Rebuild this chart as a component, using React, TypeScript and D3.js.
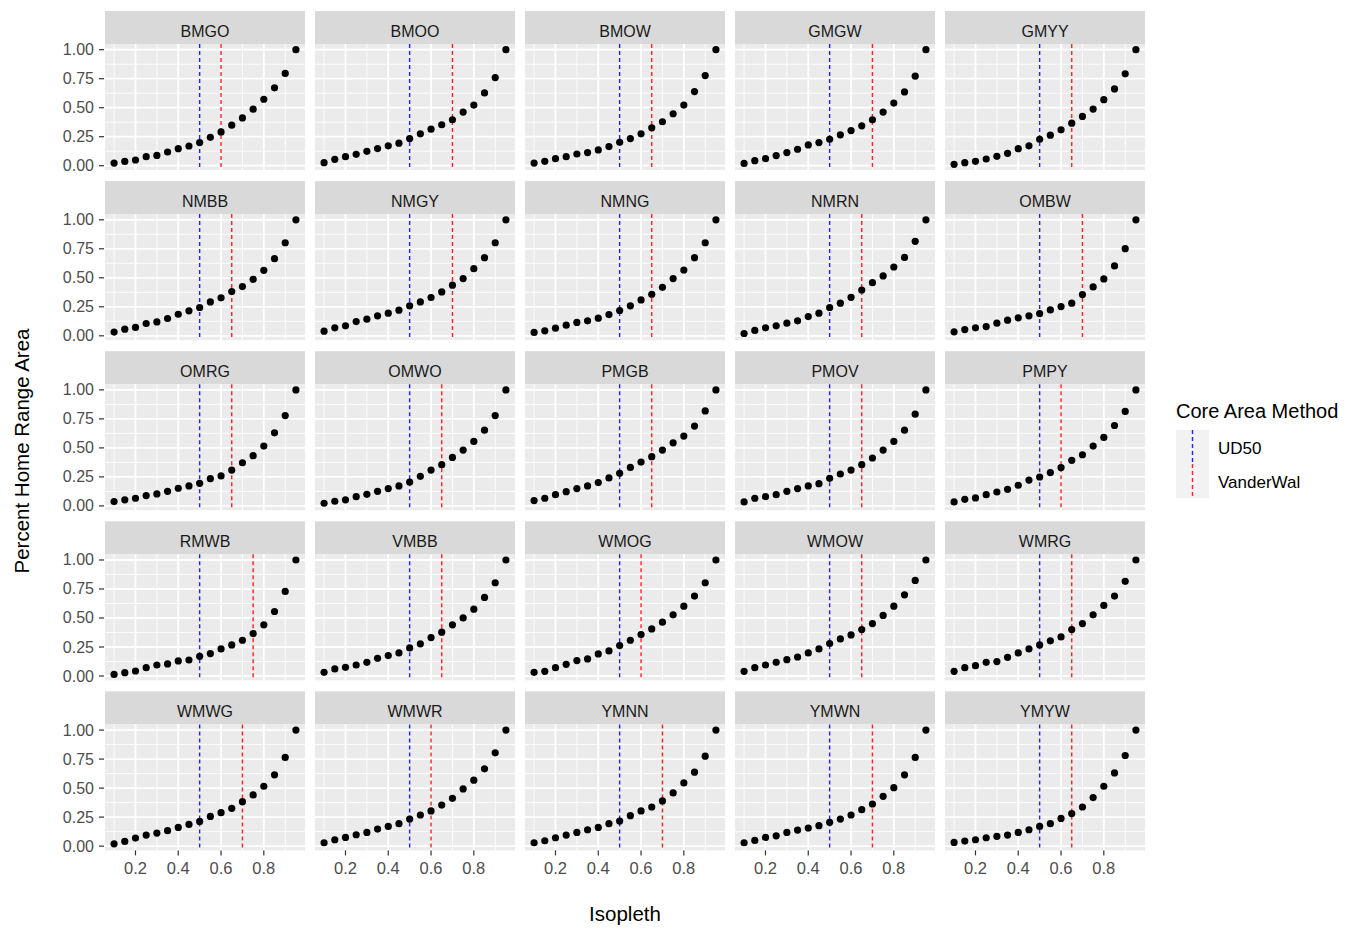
import * as React from 'react';
import * as d3 from 'd3';

// isopleth levels (x) shared by every animal
const isopleths = [0.1, 0.15, 0.2, 0.25, 0.3, 0.35, 0.4, 0.45, 0.5, 0.55, 0.6, 0.65, 0.7, 0.75, 0.8, 0.85, 0.9, 0.95];

const animals = ['BMGO', 'BMOO', 'BMOW', 'GMGW', 'GMYY', 'NMBB', 'NMGY', 'NMNG', 'NMRN', 'OMBW',
  'OMRG', 'OMWO', 'PMGB', 'PMOV', 'PMPY', 'RMWB', 'VMBB', 'WMOG', 'WMOW', 'WMRG',
  'WMWG', 'WMWR', 'YMNN', 'YMWN', 'YMYW'];

// core area cut-offs
const ud50 = [0.5, 0.5, 0.5, 0.5, 0.5, 0.5, 0.5, 0.5, 0.5, 0.5, 0.5, 0.5, 0.5, 0.5, 0.5, 0.5, 0.5, 0.5, 0.5, 0.5, 0.5, 0.5, 0.5, 0.5, 0.5];
const vanderWal = [0.6, 0.7, 0.65, 0.7, 0.65, 0.65, 0.7, 0.65, 0.65, 0.7, 0.65, 0.65, 0.65, 0.65, 0.6, 0.75, 0.65, 0.6, 0.65, 0.65, 0.7, 0.6, 0.7, 0.7, 0.65];

// percent of home range area at each isopleth
const BMGO = [0.023, 0.037, 0.049, 0.078, 0.089, 0.118, 0.147, 0.170, 0.199, 0.245, 0.291, 0.349, 0.412, 0.487, 0.573, 0.671, 0.795, 1.0];
const BMOO = [0.026, 0.055, 0.078, 0.098, 0.124, 0.148, 0.171, 0.194, 0.234, 0.275, 0.315, 0.353, 0.396, 0.462, 0.523, 0.627, 0.760, 1.0];
const BMOW = [0.023, 0.038, 0.061, 0.078, 0.101, 0.113, 0.136, 0.165, 0.202, 0.234, 0.275, 0.327, 0.379, 0.448, 0.523, 0.639, 0.777, 1.0];
const GMGW = [0.020, 0.043, 0.061, 0.087, 0.113, 0.142, 0.179, 0.199, 0.228, 0.266, 0.303, 0.344, 0.396, 0.462, 0.540, 0.636, 0.772, 1.0];
const GMYY = [0.012, 0.026, 0.038, 0.058, 0.081, 0.107, 0.147, 0.171, 0.228, 0.263, 0.309, 0.367, 0.425, 0.488, 0.569, 0.662, 0.792, 1.0];
const NMBB = [0.032, 0.057, 0.072, 0.106, 0.120, 0.149, 0.186, 0.215, 0.244, 0.292, 0.327, 0.381, 0.424, 0.487, 0.564, 0.665, 0.802, 1.0];
const NMGY = [0.040, 0.069, 0.086, 0.123, 0.143, 0.172, 0.195, 0.221, 0.258, 0.292, 0.330, 0.378, 0.436, 0.493, 0.579, 0.673, 0.802, 1.0];
const NMNG = [0.029, 0.043, 0.066, 0.092, 0.115, 0.129, 0.152, 0.183, 0.218, 0.258, 0.309, 0.358, 0.418, 0.493, 0.567, 0.673, 0.802, 1.0];
const NMRN = [0.020, 0.046, 0.069, 0.086, 0.109, 0.129, 0.166, 0.195, 0.244, 0.281, 0.332, 0.395, 0.458, 0.516, 0.593, 0.676, 0.814, 1.0];
const OMBW = [0.034, 0.054, 0.069, 0.080, 0.109, 0.135, 0.155, 0.172, 0.192, 0.223, 0.252, 0.281, 0.355, 0.421, 0.490, 0.602, 0.751, 1.0];
const OMRG = [0.037, 0.052, 0.066, 0.089, 0.103, 0.126, 0.152, 0.172, 0.195, 0.235, 0.258, 0.309, 0.372, 0.433, 0.516, 0.630, 0.779, 1.0];
const OMWO = [0.023, 0.040, 0.052, 0.080, 0.100, 0.126, 0.149, 0.172, 0.206, 0.255, 0.309, 0.355, 0.418, 0.481, 0.556, 0.653, 0.779, 1.0];
const PMGB = [0.046, 0.066, 0.097, 0.123, 0.149, 0.172, 0.201, 0.241, 0.281, 0.332, 0.378, 0.424, 0.481, 0.544, 0.602, 0.688, 0.819, 1.0];
const PMOV = [0.034, 0.066, 0.080, 0.097, 0.126, 0.149, 0.172, 0.192, 0.238, 0.275, 0.309, 0.355, 0.413, 0.481, 0.556, 0.653, 0.791, 1.0];
const PMPY = [0.034, 0.057, 0.069, 0.097, 0.120, 0.143, 0.178, 0.223, 0.249, 0.287, 0.330, 0.393, 0.441, 0.516, 0.590, 0.693, 0.814, 1.0];
const RMWB = [0.014, 0.029, 0.043, 0.072, 0.095, 0.104, 0.130, 0.138, 0.170, 0.193, 0.233, 0.268, 0.308, 0.366, 0.441, 0.556, 0.729, 1.0];
const VMBB = [0.032, 0.061, 0.075, 0.095, 0.118, 0.153, 0.176, 0.199, 0.242, 0.277, 0.331, 0.378, 0.441, 0.501, 0.576, 0.677, 0.804, 1.0];
const WMOG = [0.032, 0.040, 0.072, 0.101, 0.133, 0.147, 0.190, 0.216, 0.262, 0.308, 0.357, 0.406, 0.464, 0.527, 0.602, 0.689, 0.804, 1.0];
const WMOW = [0.040, 0.072, 0.095, 0.118, 0.141, 0.164, 0.199, 0.233, 0.280, 0.320, 0.354, 0.401, 0.452, 0.522, 0.602, 0.700, 0.824, 1.0];
const WMRG = [0.040, 0.072, 0.089, 0.118, 0.124, 0.161, 0.199, 0.233, 0.268, 0.303, 0.337, 0.401, 0.452, 0.527, 0.608, 0.689, 0.816, 1.0];
const WMWG = [0.020, 0.040, 0.069, 0.095, 0.112, 0.133, 0.161, 0.187, 0.213, 0.256, 0.288, 0.326, 0.383, 0.441, 0.516, 0.614, 0.764, 1.0];
const WMWR = [0.029, 0.055, 0.075, 0.098, 0.118, 0.147, 0.170, 0.193, 0.233, 0.268, 0.303, 0.354, 0.412, 0.493, 0.568, 0.666, 0.804, 1.0];
const YMNN = [0.029, 0.046, 0.072, 0.095, 0.118, 0.141, 0.161, 0.193, 0.216, 0.262, 0.303, 0.337, 0.389, 0.458, 0.545, 0.637, 0.775, 1.0];
const YMWN = [0.029, 0.049, 0.075, 0.089, 0.118, 0.138, 0.156, 0.176, 0.205, 0.233, 0.268, 0.314, 0.363, 0.429, 0.504, 0.614, 0.764, 1.0];
const YMYW = [0.032, 0.043, 0.055, 0.072, 0.084, 0.095, 0.118, 0.141, 0.170, 0.193, 0.239, 0.280, 0.337, 0.418, 0.516, 0.631, 0.781, 1.0];

const series = [BMGO, BMOO, BMOW, GMGW, GMYY, NMBB, NMGY, NMNG, NMRN, OMBW, OMRG, OMWO, PMGB, PMOV, PMPY,
  RMWB, VMBB, WMOG, WMOW, WMRG, WMWG, WMWR, YMNN, YMWN, YMYW];

const xTicks = [0.2, 0.4, 0.6, 0.8];
const xMinor = [0.1, 0.3, 0.5, 0.7, 0.9];
const yTicks = [0, 0.25, 0.5, 0.75, 1];
const yMinor = [0.125, 0.375, 0.625, 0.875];

const methods = ['UD50', 'VanderWal'];
const methodColours = ['#2020ff', '#ff2020'];

const FONT = '"Liberation Sans", Arial, sans-serif';

const panelW = 200;
const panelH = 126;
const stripH = 33;
const left = 105;
const top = 11;
const colStep = 210;
const rowStep = 170.1;
const nCol = 5;

export default function App() {
  const x = d3.scaleLinear().domain([0.0575, 0.9925]).range([0, panelW]);
  const y = d3.scaleLinear().domain([-0.037, 1.049]).range([panelH, 0]);
  const fmtY = d3.format('.2f');
  const nRow = Math.ceil(animals.length / nCol);
  const bottom = top + (nRow - 1) * rowStep + stripH + panelH;

  return (
    <svg width={1348} height={930} style={{ position: 'absolute', left: 0, top: 0, background: '#fff' }}
      fontFamily={FONT}>
      {animals.map((id, i) => {
        const col = i % nCol;
        const row = Math.floor(i / nCol);
        const px = left + col * colStep;
        const py = top + row * rowStep;
        const vals = series[i];
        const cuts = [ud50[i], vanderWal[i]];
        return (
          <g key={id} transform={`translate(${px},${py})`}>
            <rect width={panelW} height={stripH} fill="#d9d9d9" />
            <text x={panelW / 2} y={25.5} textAnchor="middle" fontSize={16} fill="#1a1a1a">{id}</text>
            <g transform={`translate(0,${stripH})`}>
              <rect width={panelW} height={panelH} fill="#ebebeb" />
              {yMinor.map(v => (
                <line key={'ym' + v} x1={0} x2={panelW} y1={y(v)} y2={y(v)} stroke="#fff" strokeWidth={0.9} />
              ))}
              {xMinor.map(v => (
                <line key={'xm' + v} x1={x(v)} x2={x(v)} y1={0} y2={panelH} stroke="#fff" strokeWidth={0.9} />
              ))}
              {yTicks.map(v => (
                <line key={'yg' + v} x1={0} x2={panelW} y1={y(v)} y2={y(v)} stroke="#fff" strokeWidth={1.8} />
              ))}
              {xTicks.map(v => (
                <line key={'xg' + v} x1={x(v)} x2={x(v)} y1={0} y2={panelH} stroke="#fff" strokeWidth={1.8} />
              ))}
              {cuts.map((c, k) => (
                <line key={'cut' + k} x1={x(c)} x2={x(c)} y1={0} y2={panelH} stroke={methodColours[k]}
                  strokeWidth={1.4} strokeDasharray="4,3" />
              ))}
              {vals.map((v, k) => (
                <circle key={'pt' + k} cx={x(isopleths[k])} cy={y(v)} r={3.6} fill="#000" />
              ))}
              {col === 0 && yTicks.map(v => (
                <g key={'yl' + v} transform={`translate(0,${y(v)})`}>
                  <line x1={-6} x2={-1} stroke="#333" strokeWidth={1.2} />
                  <text x={-11} y={5.5} textAnchor="end" fontSize={16} fill="#4d4d4d">{fmtY(v)}</text>
                </g>
              ))}
              {row === nRow - 1 && xTicks.map(v => (
                <g key={'xl' + v} transform={`translate(${x(v)},${panelH})`}>
                  <line y1={0} y2={5} stroke="#333" strokeWidth={1.2} />
                  <text y={24} textAnchor="middle" fontSize={16.5} fill="#4d4d4d">{v}</text>
                </g>
              ))}
            </g>
          </g>
        );
      })}

      <text x={left + (nCol - 1) * colStep / 2 + panelW / 2} y={bottom + 71} textAnchor="middle" fontSize={20.5}
        fill="#000">Isopleth</text>
      <text transform={`translate(29,451) rotate(-90)`} textAnchor="middle" fontSize={20.5} fill="#000">
        Percent Home Range Area
      </text>

      <g transform="translate(1176,411)">
        <text x={0} y={7} fontSize={20} fill="#000">Core Area Method</text>
        {methods.map((m, k) => (
          <g key={m} transform={`translate(0,${19 + k * 34})`}>
            <rect width={33} height={34} fill="#f2f2f2" />
            <line x1={16.5} x2={16.5} y1={0} y2={34} stroke={methodColours[k]} strokeWidth={1.4}
              strokeDasharray="4,3" />
            <text x={42} y={24} fontSize={17} fill="#000">{m}</text>
          </g>
        ))}
      </g>
    </svg>
  );
}
